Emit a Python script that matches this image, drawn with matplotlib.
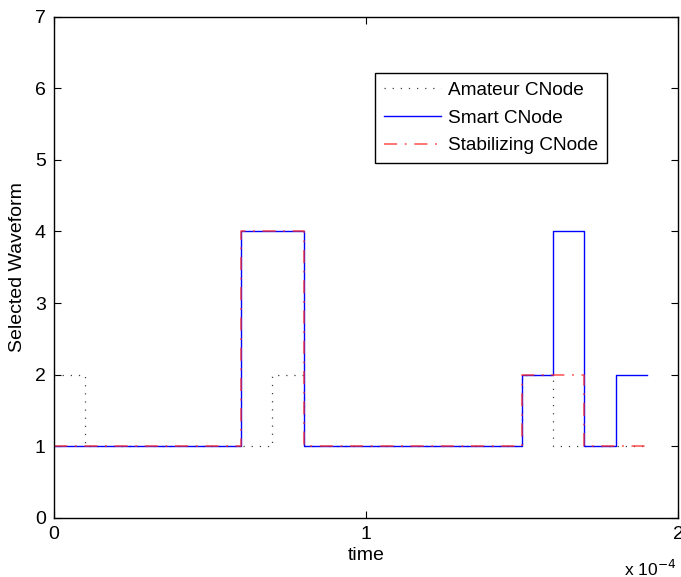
import numpy as np
import matplotlib.pyplot as plt

plt.rcParams['font.family'] = ['Liberation Sans', 'DejaVu Sans']

# switching times (s), one value held per 1e-5 s slot, last edge at 1.9e-4
t_edges = np.arange(0, 20) * 1e-5
amateur = [2, 1, 1, 1, 1, 1, 1, 2, 1, 1, 1, 1, 1, 1, 1, 2, 1, 1, 1]
smart = [1, 1, 1, 1, 1, 1, 4, 4, 1, 1, 1, 1, 1, 1, 1, 2, 4, 1, 2]
stabilizing = [1, 1, 1, 1, 1, 1, 4, 4, 1, 1, 1, 1, 1, 1, 1, 2, 2, 1, 1]


def steps(vals):
    return np.append(vals, vals[-1])


fig = plt.figure(figsize=(6.81, 5.77), dpi=100)
ax = fig.add_axes([54 / 681, 1 - 518 / 577, 624 / 681, 501.5 / 577])

ax.step(t_edges, steps(amateur), where='post', color='0.25', linestyle=(0, (1, 5.5)), lw=0.9,
        label='Amateur CNode')
ax.step(t_edges, steps(smart), where='post', color='blue', linestyle='-', lw=1.0, label='Smart CNode')
ax.step(t_edges, steps(stabilizing), where='post', color='#ff3030', linestyle=(0, (8.6, 5, 1.2, 5)),
        lw=1.1, alpha=0.85, label='Stabilizing CNode')

ax.set_xlim(0, 2e-4)
ax.set_ylim(0, 7)
ax.set_xticks([0, 1e-4, 2e-4])
ax.set_xticklabels(['0', '1', '2'])
ax.set_yticks(range(8))
ax.tick_params(direction='in', top=True, right=True, length=5, labelsize=14, pad=6)
for s in ax.spines.values():
    s.set_linewidth(1.0)

ax.set_xlabel('time', fontsize=14, labelpad=3)
ax.set_ylabel('Selected Waveform', fontsize=14, labelpad=6)
fig.text(624 / 681, 1 - 569 / 577, r'x 10$^{-4}$', fontsize=12.5, va='center')

leg = ax.legend(loc='upper left', bbox_to_anchor=((375 - 54) / 624, (518 - 73) / 501.5),
                fontsize=13.7, fancybox=False, framealpha=1, edgecolor='black',
                handlelength=3.0, borderpad=0.45, labelspacing=0.55, handletextpad=0.4,
                borderaxespad=0)
leg.get_frame().set_linewidth(1.0)

fig.savefig('out.png', dpi=100)
